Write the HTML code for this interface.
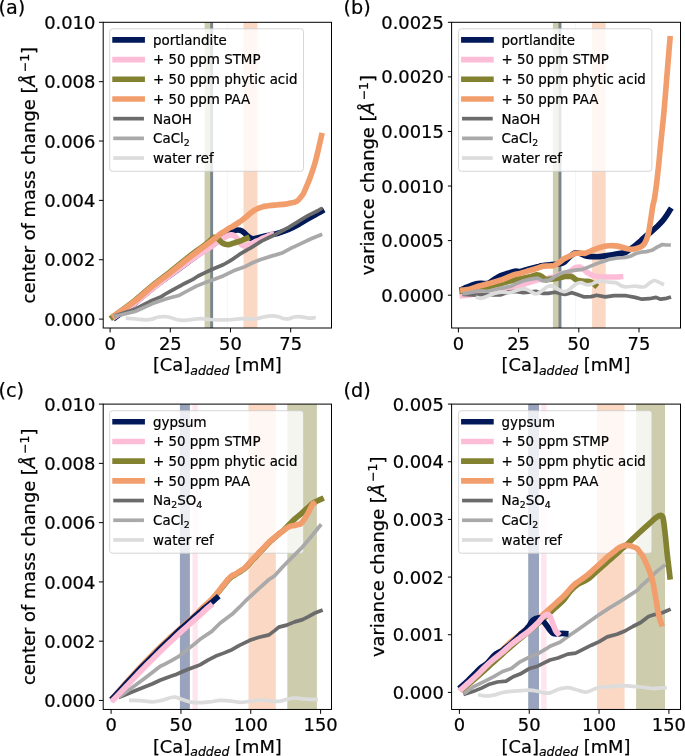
<!DOCTYPE html>
<html lang="en"><head><meta charset="utf-8"><title>Scattering moments vs added calcium</title>
<style>html,body{margin:0;padding:0;background:#fff}body{width:685px;height:756px;overflow:hidden}svg{display:block}text{font-family:'DejaVu Sans', 'Liberation Sans', sans-serif;fill:#000;stroke:#000;stroke-width:0.22px;stroke-linejoin:round}</style>
</head><body>
<svg width="685" height="756" viewBox="0 0 685 756">
<defs><filter id="soft" x="0" y="0" width="100%" height="100%" filterUnits="userSpaceOnUse" color-interpolation-filters="sRGB"><feGaussianBlur stdDeviation="0.3"/></filter></defs>
<g filter="url(#soft)">
<rect x="-5" y="-5" width="695" height="766" fill="#fff"/>
<g id="panel-a">
<clipPath id="clip-a"><rect x="103.2" y="22.3" width="228.3" height="305.7"/></clipPath>
<g clip-path="url(#clip-a)">
<rect x="204.6" y="22.3" width="8.5" height="305.7" fill="#828231" fill-opacity="0.4"/>
<rect x="210.2" y="22.3" width="2.9" height="305.7" fill="#011959" fill-opacity="0.4"/>
<rect x="226.9" y="22.3" width="0.5" height="305.7" fill="#fdbdd6" fill-opacity="0.4"/>
<rect x="243.5" y="22.3" width="13.9" height="305.7" fill="#f29e6c" fill-opacity="0.4"/>
</g>
<rect x="109.7" y="28.8" width="193.8" height="142.5" rx="2.7" ry="2.7" fill="#fff" fill-opacity="0.8" stroke="#ccc" stroke-opacity="0.8" stroke-width="1"/>
<line x1="115.1" y1="39.85" x2="142.1" y2="39.85" stroke="#011959" stroke-width="5.65" stroke-linecap="square"/>
<text x="153.1" y="44.75" font-size="13.4">portlandite</text>
<line x1="115.1" y1="59.55" x2="142.1" y2="59.55" stroke="#fdbdd6" stroke-width="5.65" stroke-linecap="square"/>
<text x="153.1" y="64.45" font-size="13.4">+ 50 ppm STMP</text>
<line x1="115.1" y1="79.25" x2="142.1" y2="79.25" stroke="#828231" stroke-width="5.65" stroke-linecap="square"/>
<text x="153.1" y="84.15" font-size="13.4">+ 50 ppm phytic acid</text>
<line x1="115.1" y1="98.95" x2="142.1" y2="98.95" stroke="#f29e6c" stroke-width="5.65" stroke-linecap="square"/>
<text x="153.1" y="103.85" font-size="13.4">+ 50 ppm PAA</text>
<line x1="115.1" y1="118.65" x2="142.1" y2="118.65" stroke="#6b6b6b" stroke-width="3.7" stroke-linecap="square"/>
<text x="153.1" y="123.55" font-size="13.4">NaOH</text>
<line x1="115.1" y1="138.35" x2="142.1" y2="138.35" stroke="#a9a9a9" stroke-width="3.7" stroke-linecap="square"/>
<text x="153.1" y="143.25" font-size="13.4">CaCl<tspan dy="2.6" font-size="9.38">2</tspan></text>
<line x1="115.1" y1="158.05" x2="142.1" y2="158.05" stroke="#dcdcdc" stroke-width="3.7" stroke-linecap="square"/>
<text x="153.1" y="162.95" font-size="13.4">water ref</text>
<g clip-path="url(#clip-a)">
<path d="M115.47,317.29C118.72,314.91 128.81,307.83 135,303C141.19,298.17 146.75,292.92 152.6,288.3C158.45,283.68 164.27,279.6 170.1,275.3C175.93,271 182.62,266.13 187.6,262.5C192.58,258.87 196.28,256.08 200,253.5C203.72,250.92 207.23,248.83 209.9,247C212.57,245.17 213.68,244.25 216,242.5C218.32,240.75 221.8,238 223.8,236.5C225.8,235 226.68,234.3 228,233.5C229.32,232.7 230.42,232.25 231.7,231.7C232.98,231.15 234.32,230.43 235.7,230.2C237.08,229.97 238.62,229.92 240,230.3C241.38,230.68 242.75,231.55 244,232.5C245.25,233.45 246.3,235.02 247.5,236C248.7,236.98 249.95,237.97 251.2,238.4C252.45,238.83 253.68,238.75 255,238.6C256.32,238.45 257.43,237.93 259.1,237.5C260.77,237.07 263.35,236.39 265,236.01C266.65,235.63 267.33,235.54 269,235.2C270.67,234.86 273.37,234.34 275,233.97C276.63,233.6 276.52,233.76 278.8,233C281.08,232.24 285.42,230.82 288.7,229.4C291.98,227.98 295.22,226.3 298.5,224.5C301.78,222.7 305.1,220.5 308.4,218.6C311.7,216.7 316.09,214.33 318.3,213.1C320.51,211.87 321.08,211.51 321.64,211.19" fill="none" stroke="#011959" stroke-width="5.65" stroke-linejoin="round" stroke-linecap="square"/>
<path d="M114.49,316.83C117.91,314.52 129.08,307.36 135,303C140.92,298.64 147.07,293.07 150,290.64C152.93,288.21 149.27,291.01 152.6,288.44C155.93,285.86 167.08,277.4 170,275.17C172.92,272.95 167.17,277.21 170.1,275.1C173.03,272.99 184.28,264.89 187.6,262.5C190.92,260.11 187.93,262.2 190,260.76C192.07,259.31 197.5,255.51 200,253.83C202.5,252.16 203.35,251.77 205,250.72C206.65,249.66 208.07,248.79 209.9,247.5C211.73,246.21 213.68,244.6 216,243C218.32,241.4 221.83,239.13 223.8,237.9C225.77,236.67 226.48,236.1 227.8,235.6C229.12,235.1 230.52,234.82 231.7,234.9C232.88,234.98 233.97,235.43 234.9,236.1C235.83,236.77 236.45,237.75 237.3,238.9C238.15,240.05 239.05,241.88 240,243C240.95,244.12 241.83,245.2 243,245.6C244.17,246 245.27,245.87 247,245.38C248.73,244.89 252.13,243.22 253.4,242.66C254.67,242.09 253.63,242.43 254.6,241.98C255.57,241.54 257.97,240.57 259.2,240C260.43,239.43 261.02,239.02 262,238.58C262.98,238.13 263.77,237.91 265.1,237.35C266.43,236.79 269.03,235.63 270,235.2C270.97,234.76 270.62,234.87 270.9,234.73C271.18,234.58 271.56,234.39 271.7,234.32" fill="none" stroke="#fdbdd6" stroke-width="5.65" stroke-linejoin="round" stroke-linecap="square"/>
<path d="M112.6,316.98C116.33,314.21 128.33,305.65 135,300.4C141.67,295.15 146.75,290.23 152.6,285.5C158.45,280.77 164.27,276.62 170.1,272C175.93,267.38 182.62,261.73 187.6,257.8C192.58,253.87 196.62,250.93 200,248.4C203.38,245.87 205.52,244.45 207.9,242.6C210.28,240.75 212.45,237.78 214.3,237.3C216.15,236.82 217.68,238.77 219,239.7C220.32,240.63 221.13,242.13 222.2,242.9C223.27,243.67 224.33,244.02 225.4,244.3C226.47,244.58 227.55,244.68 228.6,244.6C229.65,244.52 230.52,244.15 231.7,243.8C232.88,243.45 234.32,242.95 235.7,242.5C237.08,242.05 238.62,241.62 240,241.1C241.38,240.58 242.83,239.89 244,239.4C245.17,238.91 246.5,238.34 247,238.13" fill="none" stroke="#828231" stroke-width="5.65" stroke-linejoin="round" stroke-linecap="square"/>
<path d="M114.4,315.77C117.83,313.31 128.63,305.94 135,301C141.37,296.06 146.75,290.78 152.6,286.1C158.45,281.42 164.27,277.43 170.1,272.9C175.93,268.37 182.62,262.78 187.6,258.9C192.58,255.02 196.62,252.12 200,249.6C203.38,247.08 205.25,245.78 207.9,243.8C210.55,241.82 213.92,239.28 215.9,237.7C217.88,236.12 218.48,235.3 219.8,234.3C221.12,233.3 222.1,232.8 223.8,231.7C225.5,230.6 228.68,228.5 230,227.7C231.32,226.9 230.87,227.36 231.7,226.91C232.53,226.46 233.62,225.87 235,225C236.38,224.13 238.68,222.6 240,221.66C241.32,220.72 241.68,220.31 242.9,219.36C244.12,218.41 245.97,217.06 247.3,215.97C248.63,214.88 249.68,213.76 250.9,212.8C252.12,211.85 253.95,210.68 254.6,210.23C255.25,209.78 254.1,210.43 254.8,210.08C255.5,209.74 257.47,208.75 258.8,208.18C260.13,207.61 261.48,207.04 262.8,206.67C264.12,206.31 265.67,206.14 266.7,205.98C267.73,205.81 267.67,205.82 269,205.68C270.33,205.55 272.03,205.41 274.7,205.15C277.37,204.89 282.67,204.39 285,204.1C287.33,203.81 286.77,203.85 288.7,203.4C290.63,202.95 294.3,202.82 296.6,201.4C298.9,199.98 301.2,196.58 302.5,194.9C303.8,193.22 303.22,193.93 304.4,191.3C305.58,188.67 307.85,183.77 309.6,179.1C311.35,174.43 313.43,168.27 314.9,163.3C316.37,158.33 317.3,153.91 318.4,149.3C319.5,144.69 320.98,137.93 321.5,135.66" fill="none" stroke="#f29e6c" stroke-width="5.65" stroke-linejoin="round" stroke-linecap="square"/>
<polyline points="116.04,315.43 135,309.2 152.6,300.1 161.3,296.6 165,294.25 170.1,291.34 178.8,286.52 180,286.01 184.1,283.73 192.9,279.44 195,277.97 198.1,276 205.1,272.6 211.8,269.5 223.7,264.5 230,260.87 231.5,259.95 239.4,254.47 249.3,248.72 250,248.31 259.1,242.69 262,240.92 269,237.53 275,234.72 278.8,232.7 288.7,227.3 298.5,221.3 300,220.38 308.4,215.44 318.3,210.51 320.68,208.99" fill="none" stroke="#6b6b6b" stroke-width="3.7" stroke-linejoin="round" stroke-linecap="square"/>
<polyline points="116.07,315.93 135,311.5 152.6,303.6 165,299.28 170.1,297.74 178.8,295.44 180,294.9 187.6,290.75 195,286.78 196.4,286.1 205.1,282.6 211.8,280.3 223.7,275.7 233.5,270.8 243.4,267.3 253.2,262.5 260,259.82 263.1,258.85 272.9,255.63 275,255.14 282.8,252.7 292.6,247.4 295,246.43 302.5,242.8 310,239.22 312.3,238.3 320.53,234.97" fill="none" stroke="#a9a9a9" stroke-width="3.7" stroke-linejoin="round" stroke-linecap="square"/>
<path d="M127.6,318.3C129.01,318.42 133.08,318.75 136.1,319C139.12,319.25 143.03,319.78 145.7,319.8C148.37,319.82 149.97,319.57 152.1,319.1C154.23,318.63 156.35,317.42 158.5,317C160.65,316.58 162.85,316.47 165,316.6C167.15,316.73 169.27,317.27 171.4,317.8C173.53,318.33 175.67,319.38 177.8,319.8C179.93,320.22 181.78,320.35 184.2,320.3C186.62,320.25 189.62,319.77 192.3,319.5C194.98,319.23 197.37,318.7 200.3,318.7C203.23,318.7 206.68,319.32 209.9,319.5C213.12,319.68 217.08,319.75 219.6,319.8C222.12,319.85 222.77,319.85 225,319.8C227.23,319.75 230.32,319.68 233,319.5C235.68,319.32 238.15,318.77 241.1,318.7C244.05,318.63 248.03,319.1 250.7,319.1C253.37,319.1 254.97,319.05 257.1,318.7C259.23,318.35 261.08,317.47 263.5,317C265.92,316.53 269.18,315.97 271.6,315.9C274.02,315.83 275.87,316.13 278,316.6C280.13,317.07 282.53,318.35 284.4,318.7C286.27,319.05 287.58,318.98 289.2,318.7C290.82,318.42 292.48,317.35 294.1,317C295.72,316.65 297.03,316.52 298.9,316.6C300.77,316.68 303.43,317.23 305.3,317.5C307.17,317.77 308.66,318.16 310.1,318.2C311.54,318.24 313.28,317.8 313.91,317.72" fill="none" stroke="#dcdcdc" stroke-width="3.7" stroke-linejoin="round" stroke-linecap="square"/>
</g>
<rect x="103.2" y="22.3" width="228.3" height="305.7" fill="none" stroke="#000" stroke-width="1"/>
<line x1="110.1" y1="328" x2="110.1" y2="332.4" stroke="#000" stroke-width="1"/>
<text x="110.1" y="349.6" font-size="17.9" text-anchor="middle">0</text>
<line x1="170.3" y1="328" x2="170.3" y2="332.4" stroke="#000" stroke-width="1"/>
<text x="170.3" y="349.6" font-size="17.9" text-anchor="middle">25</text>
<line x1="230.5" y1="328" x2="230.5" y2="332.4" stroke="#000" stroke-width="1"/>
<text x="230.5" y="349.6" font-size="17.9" text-anchor="middle">50</text>
<line x1="290.7" y1="328" x2="290.7" y2="332.4" stroke="#000" stroke-width="1"/>
<text x="290.7" y="349.6" font-size="17.9" text-anchor="middle">75</text>
<line x1="98.9" y1="319.1" x2="103.2" y2="319.1" stroke="#000" stroke-width="1"/>
<text x="95.35" y="325.7" font-size="17.9" text-anchor="end">0.000</text>
<line x1="98.9" y1="259.74" x2="103.2" y2="259.74" stroke="#000" stroke-width="1"/>
<text x="95.35" y="266.34" font-size="17.9" text-anchor="end">0.002</text>
<line x1="98.9" y1="200.38" x2="103.2" y2="200.38" stroke="#000" stroke-width="1"/>
<text x="95.35" y="206.98" font-size="17.9" text-anchor="end">0.004</text>
<line x1="98.9" y1="141.02" x2="103.2" y2="141.02" stroke="#000" stroke-width="1"/>
<text x="95.35" y="147.62" font-size="17.9" text-anchor="end">0.006</text>
<line x1="98.9" y1="81.66" x2="103.2" y2="81.66" stroke="#000" stroke-width="1"/>
<text x="95.35" y="88.26" font-size="17.9" text-anchor="end">0.008</text>
<line x1="98.9" y1="22.3" x2="103.2" y2="22.3" stroke="#000" stroke-width="1"/>
<text x="95.35" y="28.9" font-size="17.9" text-anchor="end">0.010</text>
<text x="217.35" y="371.3" font-size="17.85" text-anchor="middle">[Ca]<tspan dy="3.2" font-size="12.5" font-style="italic">added</tspan><tspan dy="-3.2"> [mM]</tspan></text>
<text transform="translate(35.2 175.15) rotate(-90)" font-size="17.85" text-anchor="middle">center of mass change [<tspan font-style="italic">Å</tspan><tspan dy="-6.4" dx="2.0" font-size="12.5">−1</tspan><tspan dy="6.4">]</tspan></text>
<text x="-1.5" y="14.3" font-size="19.2">(a)</text>
</g>
<g id="panel-b">
<clipPath id="clip-b"><rect x="451.6" y="22.3" width="228.9" height="305.7"/></clipPath>
<g clip-path="url(#clip-b)">
<rect x="552.9" y="22.3" width="8.5" height="305.7" fill="#828231" fill-opacity="0.4"/>
<rect x="558.5" y="22.3" width="2.9" height="305.7" fill="#011959" fill-opacity="0.4"/>
<rect x="575.2" y="22.3" width="0.5" height="305.7" fill="#fdbdd6" fill-opacity="0.4"/>
<rect x="592.1" y="22.3" width="13.6" height="305.7" fill="#f29e6c" fill-opacity="0.4"/>
</g>
<rect x="458.6" y="28.8" width="193.3" height="142.5" rx="2.7" ry="2.7" fill="#fff" fill-opacity="0.8" stroke="#ccc" stroke-opacity="0.8" stroke-width="1"/>
<line x1="463.9" y1="39.85" x2="490.9" y2="39.85" stroke="#011959" stroke-width="5.65" stroke-linecap="square"/>
<text x="501.5" y="44.75" font-size="13.4">portlandite</text>
<line x1="463.9" y1="59.55" x2="490.9" y2="59.55" stroke="#fdbdd6" stroke-width="5.65" stroke-linecap="square"/>
<text x="501.5" y="64.45" font-size="13.4">+ 50 ppm STMP</text>
<line x1="463.9" y1="79.25" x2="490.9" y2="79.25" stroke="#828231" stroke-width="5.65" stroke-linecap="square"/>
<text x="501.5" y="84.15" font-size="13.4">+ 50 ppm phytic acid</text>
<line x1="463.9" y1="98.95" x2="490.9" y2="98.95" stroke="#f29e6c" stroke-width="5.65" stroke-linecap="square"/>
<text x="501.5" y="103.85" font-size="13.4">+ 50 ppm PAA</text>
<line x1="463.9" y1="118.65" x2="490.9" y2="118.65" stroke="#6b6b6b" stroke-width="3.7" stroke-linecap="square"/>
<text x="501.5" y="123.55" font-size="13.4">NaOH</text>
<line x1="463.9" y1="138.35" x2="490.9" y2="138.35" stroke="#a9a9a9" stroke-width="3.7" stroke-linecap="square"/>
<text x="501.5" y="143.25" font-size="13.4">CaCl<tspan dy="2.6" font-size="9.38">2</tspan></text>
<line x1="463.9" y1="158.05" x2="490.9" y2="158.05" stroke="#dcdcdc" stroke-width="3.7" stroke-linecap="square"/>
<text x="501.5" y="162.95" font-size="13.4">water ref</text>
<g clip-path="url(#clip-b)">
<path d="M462.5,289.11C463.33,288.74 465.2,287.79 467.5,286.9C469.8,286.01 473.97,284.38 476.3,283.8C478.63,283.22 479.6,283.47 481.5,283.4C483.4,283.33 485.65,284.03 487.7,283.4C489.75,282.77 491.62,280.9 493.8,279.6C495.98,278.3 498.47,276.65 500.8,275.6C503.13,274.55 505.47,274.03 507.8,273.3C510.13,272.57 512.75,271.5 514.8,271.2C516.85,270.9 517.77,271.85 520.1,271.5C522.43,271.15 525.88,269.88 528.8,269.1C531.72,268.32 535.55,267.33 537.6,266.8C539.65,266.27 539.35,266.2 541.1,265.9C542.85,265.6 545.77,265.28 548.1,265C550.43,264.72 552.77,264.48 555.1,264.2C557.43,263.92 560.45,263.75 562.1,263.3C563.75,262.85 563.63,262.67 565,261.5C566.37,260.33 568.55,257.75 570.3,256.3C572.05,254.85 573.75,253.23 575.5,252.8C577.25,252.37 579.05,253.18 580.8,253.7C582.55,254.22 583.97,255.42 586,255.9C588.03,256.38 590.67,256.48 593,256.6C595.33,256.72 597.37,256.8 600,256.6C602.63,256.4 605.87,255.88 608.8,255.4C611.73,254.92 614.85,254.18 617.6,253.7C620.35,253.22 623.13,253.32 625.3,252.5C627.47,251.68 628.83,250.05 630.6,248.8C632.37,247.55 634.13,246.42 635.9,245C637.67,243.58 639.43,241.88 641.2,240.3C642.97,238.72 644.73,237 646.5,235.5C648.27,234 650.03,232.8 651.8,231.3C653.57,229.8 655.35,228.18 657.1,226.5C658.85,224.82 660.72,223.05 662.3,221.2C663.88,219.35 665.34,217.21 666.6,215.4C667.86,213.59 669.29,211.17 669.83,210.32" fill="none" stroke="#011959" stroke-width="5.65" stroke-linejoin="round" stroke-linecap="square"/>
<path d="M462.4,295.62C463.25,295.55 465.48,295.49 467.5,295.2C469.52,294.91 472.17,294.7 474.5,293.9C476.83,293.1 479.45,291.27 481.5,290.4C483.55,289.53 484.75,288.9 486.8,288.7C488.85,288.5 491.17,289.2 493.8,289.2C496.43,289.2 499.68,288.93 502.6,288.7C505.52,288.47 508.38,288.38 511.3,287.8C514.22,287.22 517.18,286.07 520.1,285.2C523.02,284.33 525.88,283.48 528.8,282.6C531.72,281.72 536.07,280.37 537.6,279.9C539.13,279.43 536.83,279.93 538,279.77C539.17,279.61 543.27,279.09 544.6,278.94C545.93,278.78 544.83,279.1 546,278.84C547.17,278.58 550.1,277.79 551.6,277.4C553.1,277.01 553.83,276.95 555,276.53C556.17,276.1 557.43,275.29 558.6,274.83C559.77,274.36 560.93,273.97 562,273.73C563.07,273.49 563.62,273.82 565,273.4C566.38,272.98 568.55,272.15 570.3,271.2C572.05,270.25 573.9,268.38 575.5,267.7C577.1,267.02 578.43,266.73 579.9,267.1C581.37,267.47 582.98,268.93 584.3,269.9C585.62,270.87 586.35,271.95 587.8,272.9C589.25,273.85 590.97,274.95 593,275.6C595.03,276.25 597.37,276.57 600,276.8C602.63,277.03 605.87,276.97 608.8,277C611.73,277.03 615.65,277.04 617.6,277C619.55,276.96 620.02,276.8 620.5,276.76" fill="none" stroke="#fdbdd6" stroke-width="5.65" stroke-linejoin="round" stroke-linecap="square"/>
<path d="M462.1,291.02C463,290.91 465.13,290.7 467.5,290.4C469.87,290.1 473.38,289.68 476.3,289.2C479.22,288.72 482.08,288.17 485,287.5C487.92,286.83 490.87,285.97 493.8,285.2C496.73,284.43 499.68,283.63 502.6,282.9C505.52,282.17 508.38,281.5 511.3,280.8C514.22,280.1 517.18,279.33 520.1,278.7C523.02,278.07 526.18,277.62 528.8,277C531.42,276.38 534.27,275.32 535.8,275C537.33,274.68 537.12,274.88 538,275.08C538.88,275.29 539.82,275.49 541.1,276.25C542.38,277 544.82,279.04 545.7,279.62C546.58,280.2 545.35,279.85 546.4,279.72C547.45,279.6 550.55,279.03 552,278.88C553.45,278.73 553.77,279.03 555.1,278.81C556.43,278.59 558.83,277.82 560,277.57C561.17,277.32 561.27,277.5 562.1,277.3C562.93,277.11 563.68,276.55 565,276.4C566.32,276.25 568.83,276.33 570,276.4C571.17,276.47 571,276.26 572,276.8C573,277.34 575.12,279.05 576,279.64C576.88,280.22 576.22,280.06 577.3,280.3C578.38,280.54 581.22,280.91 582.5,281.1C583.78,281.29 583.83,281.35 585,281.42C586.17,281.5 588.33,281.32 589.5,281.55C590.67,281.78 591.27,282.39 592,282.78C592.73,283.17 593.37,283.52 593.9,283.9C594.43,284.28 594.98,284.86 595.2,285.05" fill="none" stroke="#828231" stroke-width="5.65" stroke-linejoin="round" stroke-linecap="square"/>
<path d="M463,290.07C463.75,289.99 466,289.86 467.5,289.59C469,289.31 470.53,288.87 472,288.41C473.47,287.95 474.13,287.49 476.3,286.84C478.47,286.19 482.08,285.31 485,284.52C487.92,283.73 490.87,282.94 493.8,282.1C496.73,281.26 501.07,279.94 502.6,279.49C504.13,279.04 501.55,280.01 503,279.39C504.45,278.78 509.3,276.64 511.3,275.82C513.3,274.99 513.53,274.85 515,274.44C516.47,274.04 517.8,274.01 520.1,273.4C522.4,272.79 526.32,271.54 528.8,270.8C531.28,270.06 533.53,269.42 535,268.97C536.47,268.52 536.28,268.59 537.6,268.12C538.92,267.65 541.15,266.51 542.9,266.15C544.65,265.8 546.75,266.03 548.1,265.99C549.45,265.95 550.12,265.94 551,265.9C551.88,265.86 552.13,266.26 553.4,265.74C554.67,265.22 556.85,263.93 558.6,262.79C560.35,261.66 562.67,259.76 563.9,258.94C565.13,258.12 564.35,258.69 566,257.87C567.65,257.05 572.13,254.78 573.8,254.01C575.47,253.24 574.55,253.39 576,253.24C577.45,253.09 581,253.11 582.5,253.11C584,253.1 583.53,253.59 585,253.2C586.47,252.82 590.13,251.26 591.3,250.8C592.47,250.34 590.55,250.99 592,250.44C593.45,249.89 597.2,248.27 600,247.5C602.8,246.73 605.87,246.03 608.8,245.8C611.73,245.57 614.68,245.67 617.6,246.1C620.52,246.53 623.78,247.87 626.3,248.4C628.82,248.93 630.57,249.42 632.7,249.3C634.83,249.18 637.33,248.42 639.1,247.7C640.87,246.98 642.17,246.15 643.3,245C644.43,243.85 645.1,242.55 645.9,240.8C646.7,239.05 647.48,236.78 648.1,234.5C648.72,232.22 649.08,230.1 649.6,227.1C650.12,224.1 650.67,220.03 651.2,216.5C651.73,212.97 652.2,209.2 652.8,205.9C653.4,202.6 653.95,202.28 654.8,196.7C655.65,191.12 656.88,181.53 657.9,172.4C658.92,163.27 659.88,152.07 660.9,141.9C661.92,131.73 662.98,122.58 664,111.4C665.02,100.22 666.12,85.53 667,74.8C667.88,64.07 668.8,52.98 669.3,47C669.8,41.02 669.88,40.25 670,38.9" fill="none" stroke="#f29e6c" stroke-width="5.65" stroke-linejoin="round" stroke-linecap="square"/>
<polyline points="464.3,294.6 476.3,295.2 485,294.5 493.8,294.8 500.8,294.8 507.8,292.2 514.8,291.3 523.6,292.7 528.8,292.2 535.8,291.3 542.9,293.4 548.1,293.4 555.1,292.2 562.1,293.9 565,294.5 572,292.7 577.3,294.5 584.3,296.9 591.3,296.6 596.5,295.2 605.3,296.9 614.1,295.7 626.3,295.7 635.1,297.4 642.1,299.2 649.1,298.7 656.1,297.4 660.5,299.2 666.6,298.3 669.28,297.45" fill="none" stroke="#6b6b6b" stroke-width="3.7" stroke-linejoin="round" stroke-linecap="square"/>
<polyline points="464.3,293.59 467.5,293.1 476.3,291.3 478,290.97 485,291 488,291.29 493.8,289.83 498,288.77 502.6,288.11 510,286.35 511.3,286.1 516.6,283.4 523.6,280.8 530.6,279.1 537.6,278.2 542.9,280.8 549.9,279.9 555.1,276.4 562.1,272.9 565,272 573.8,270.3 582.5,269.4 591.3,265.9 600,262.4 608.8,259.4 617.6,258 625.3,257.5 630.6,256.2 635.9,253.5 641.2,252.2 646.5,251.6 651.8,250.3 657.1,247.2 662.3,244.5 666.6,245 669,245" fill="none" stroke="#a9a9a9" stroke-width="3.7" stroke-linejoin="round" stroke-linecap="square"/>
<path d="M477.48,297.6C478.15,297.72 479.66,298.62 481.5,298.3C483.34,297.98 486.17,296.57 488.5,295.7C490.83,294.83 493.15,293.68 495.5,293.1C497.85,292.52 500.25,292.27 502.6,292.2C504.95,292.13 507.27,293 509.6,292.7C511.93,292.4 514.27,291.07 516.6,290.4C518.93,289.73 521.57,288.7 523.6,288.7C525.63,288.7 526.77,289.53 528.8,290.4C530.83,291.27 533.75,293.75 535.8,293.9C537.85,294.05 539.05,292.55 541.1,291.3C543.15,290.05 546.05,287.22 548.1,286.4C550.15,285.58 551.65,285.87 553.4,286.4C555.15,286.93 556.85,288.72 558.6,289.6C560.35,290.48 562.5,291.5 563.9,291.7C565.3,291.9 565.93,291.3 567,290.8C568.07,290.3 568.88,289.78 570.3,288.7C571.72,287.62 573.75,285.32 575.5,284.3C577.25,283.28 579.05,282.53 580.8,282.6C582.55,282.67 584.25,284.42 586,284.7C587.75,284.98 589.55,284.8 591.3,284.3C593.05,283.8 594.75,282.28 596.5,281.7C598.25,281.12 599.75,280.72 601.8,280.8C603.85,280.88 606.47,281.9 608.8,282.2C611.13,282.5 613.75,282.02 615.8,282.6C617.85,283.18 619.35,284.98 621.1,285.7C622.85,286.42 623.97,286.83 626.3,286.9C628.63,286.97 632.18,286.1 635.1,286.1C638.02,286.1 641.47,287.35 643.8,286.9C646.13,286.45 647.35,284.47 649.1,283.4C650.85,282.33 652.55,280.63 654.3,280.5C656.05,280.37 658.25,282.03 659.6,282.6C660.95,283.17 661.91,283.7 662.38,283.92" fill="none" stroke="#dcdcdc" stroke-width="3.7" stroke-linejoin="round" stroke-linecap="square"/>
</g>
<rect x="451.6" y="22.3" width="228.9" height="305.7" fill="none" stroke="#000" stroke-width="1"/>
<line x1="458.4" y1="328" x2="458.4" y2="332.4" stroke="#000" stroke-width="1"/>
<text x="458.4" y="349.6" font-size="17.9" text-anchor="middle">0</text>
<line x1="518.6" y1="328" x2="518.6" y2="332.4" stroke="#000" stroke-width="1"/>
<text x="518.6" y="349.6" font-size="17.9" text-anchor="middle">25</text>
<line x1="578.8" y1="328" x2="578.8" y2="332.4" stroke="#000" stroke-width="1"/>
<text x="578.8" y="349.6" font-size="17.9" text-anchor="middle">50</text>
<line x1="639" y1="328" x2="639" y2="332.4" stroke="#000" stroke-width="1"/>
<text x="639" y="349.6" font-size="17.9" text-anchor="middle">75</text>
<line x1="447.9" y1="295.2" x2="451.6" y2="295.2" stroke="#000" stroke-width="1"/>
<text x="443.9" y="301.8" font-size="17.9" text-anchor="end">0.0000</text>
<line x1="447.9" y1="240.62" x2="451.6" y2="240.62" stroke="#000" stroke-width="1"/>
<text x="443.9" y="247.22" font-size="17.9" text-anchor="end">0.0005</text>
<line x1="447.9" y1="186.04" x2="451.6" y2="186.04" stroke="#000" stroke-width="1"/>
<text x="443.9" y="192.64" font-size="17.9" text-anchor="end">0.0010</text>
<line x1="447.9" y1="131.46" x2="451.6" y2="131.46" stroke="#000" stroke-width="1"/>
<text x="443.9" y="138.06" font-size="17.9" text-anchor="end">0.0015</text>
<line x1="447.9" y1="76.88" x2="451.6" y2="76.88" stroke="#000" stroke-width="1"/>
<text x="443.9" y="83.48" font-size="17.9" text-anchor="end">0.0020</text>
<line x1="447.9" y1="22.3" x2="451.6" y2="22.3" stroke="#000" stroke-width="1"/>
<text x="443.9" y="28.9" font-size="17.9" text-anchor="end">0.0025</text>
<text x="566.05" y="371.3" font-size="17.85" text-anchor="middle">[Ca]<tspan dy="3.2" font-size="12.5" font-style="italic">added</tspan><tspan dy="-3.2"> [mM]</tspan></text>
<text transform="translate(373.9 175.15) rotate(-90)" font-size="17.85" text-anchor="middle">variance change [<tspan font-style="italic">Å</tspan><tspan dy="-6.4" dx="2.0" font-size="12.5">−1</tspan><tspan dy="6.4">]</tspan></text>
<text x="343.5" y="14.3" font-size="19.2">(b)</text>
</g>
<g id="panel-c">
<clipPath id="clip-c"><rect x="103.2" y="404.1" width="228.3" height="305.35"/></clipPath>
<g clip-path="url(#clip-c)">
<rect x="179.9" y="404.1" width="10" height="305.35" fill="#011959" fill-opacity="0.4"/>
<rect x="192.5" y="404.1" width="5.3" height="305.35" fill="#fdbdd6" fill-opacity="0.4"/>
<rect x="248.5" y="404.1" width="27.3" height="305.35" fill="#f29e6c" fill-opacity="0.4"/>
<rect x="287.3" y="404.1" width="29.6" height="305.35" fill="#828231" fill-opacity="0.4"/>
</g>
<rect x="109.7" y="410.7" width="193.8" height="142.5" rx="2.7" ry="2.7" fill="#fff" fill-opacity="0.8" stroke="#ccc" stroke-opacity="0.8" stroke-width="1"/>
<line x1="115.1" y1="421.75" x2="142.1" y2="421.75" stroke="#011959" stroke-width="5.65" stroke-linecap="square"/>
<text x="153.1" y="426.65" font-size="13.4">gypsum</text>
<line x1="115.1" y1="441.45" x2="142.1" y2="441.45" stroke="#fdbdd6" stroke-width="5.65" stroke-linecap="square"/>
<text x="153.1" y="446.35" font-size="13.4">+ 50 ppm STMP</text>
<line x1="115.1" y1="461.15" x2="142.1" y2="461.15" stroke="#828231" stroke-width="5.65" stroke-linecap="square"/>
<text x="153.1" y="466.05" font-size="13.4">+ 50 ppm phytic acid</text>
<line x1="115.1" y1="480.85" x2="142.1" y2="480.85" stroke="#f29e6c" stroke-width="5.65" stroke-linecap="square"/>
<text x="153.1" y="485.75" font-size="13.4">+ 50 ppm PAA</text>
<line x1="115.1" y1="500.55" x2="142.1" y2="500.55" stroke="#6b6b6b" stroke-width="3.7" stroke-linecap="square"/>
<text x="153.1" y="505.45" font-size="13.4">Na<tspan dy="2.6" font-size="9.38">2</tspan><tspan dy="-2.6">SO</tspan><tspan dy="2.6" font-size="9.38">4</tspan></text>
<line x1="115.1" y1="520.25" x2="142.1" y2="520.25" stroke="#a9a9a9" stroke-width="3.7" stroke-linecap="square"/>
<text x="153.1" y="525.15" font-size="13.4">CaCl<tspan dy="2.6" font-size="9.38">2</tspan></text>
<line x1="115.1" y1="539.95" x2="142.1" y2="539.95" stroke="#dcdcdc" stroke-width="3.7" stroke-linecap="square"/>
<text x="153.1" y="544.85" font-size="13.4">water ref</text>
<g clip-path="url(#clip-c)">
<polyline points="120.41,696.74 135,690.7 143.8,687.2 152.6,683.7 160,680.3 161.3,679.78 170.1,676.43 176,674.43 178.8,673.3 187.6,669.5 196.4,666.3 200,664.9 207.9,660.21 215.8,656.02 223.7,653.13 230,650.55 231.5,649.8 239.4,645.37 242,644.18 249.3,640.57 252,639.47 259.1,637.3 269,634.9 274.9,630.4 278.8,627.1 286.7,625.1 294.6,621.9 302.5,619.6 308.4,616.6 314.3,613.3 320.92,610.75" fill="none" stroke="#6b6b6b" stroke-width="3.7" stroke-linejoin="round" stroke-linecap="square"/>
<polyline points="120.27,696.19 135,685.5 143.8,679 150,674.28 152.6,672.25 160,666.49 161.3,665.77 163,665.03 170,661.39 170.1,661.34 178,656.88 178.8,656.34 180,655.53 187.6,649.43 196.4,642.47 200,639.3 211.8,631.4 219.7,623.5 220,623.25 229.6,616.04 233,613.42 239.4,607.2 245,601.47 249.3,597.46 259.1,588.43 260,587.59 269,579.5 274.9,575.6 282.8,566.7 292.6,556.9 302.5,547 312.3,535.2 320.06,525.69" fill="none" stroke="#a9a9a9" stroke-width="3.7" stroke-linejoin="round" stroke-linecap="square"/>
<path d="M130.8,700.43C132.38,700.47 136.67,700.47 140.3,700.7C143.93,700.93 149.1,701.85 152.6,701.8C156.1,701.75 158.38,701.08 161.3,700.4C164.22,699.72 167.77,698.23 170.1,697.7C172.43,697.17 173.27,696.9 175.3,697.2C177.33,697.5 179.67,698.68 182.3,699.5C184.93,700.32 188.15,701.57 191.1,702.1C194.05,702.63 196.87,702.73 200,702.7C203.13,702.67 206.62,702.28 209.9,701.9C213.18,701.52 216.42,700.58 219.7,700.4C222.98,700.22 226.32,700.48 229.6,700.8C232.88,701.12 236.12,702.2 239.4,702.3C242.68,702.4 246.02,701.78 249.3,701.4C252.58,701.02 255.82,700.1 259.1,700C262.38,699.9 265.72,700.57 269,700.8C272.28,701.03 275.85,701.63 278.8,701.4C281.75,701.17 284.07,699.97 286.7,699.4C289.33,698.83 291.97,698.1 294.6,698C297.23,697.9 299.87,698.57 302.5,698.8C305.13,699.03 308.13,699.3 310.4,699.4C312.67,699.5 315.15,699.4 316.1,699.4" fill="none" stroke="#dcdcdc" stroke-width="3.7" stroke-linejoin="round" stroke-linecap="square"/>
<path d="M113.6,697.58C113.67,697.51 111.88,699.18 114,697.14C116.12,695.1 123.97,687.59 126.3,685.36C128.63,683.12 126.55,685.28 128,683.72C129.45,682.16 132.37,678.85 135,676C137.63,673.15 140.87,669.67 143.8,666.6C146.73,663.53 149.68,660.53 152.6,657.6C155.52,654.67 158.38,651.78 161.3,649C164.22,646.22 167.18,643.55 170.1,640.9C173.02,638.25 175.88,635.7 178.8,633.1C181.72,630.5 184.9,627.71 187.6,625.3C190.3,622.89 193.53,620 195,618.66C196.47,617.31 194.73,619.18 196.4,617.24C198.07,615.29 202.8,609.49 205,606.99C207.2,604.48 208.78,603.05 209.6,602.2C210.42,601.36 209.5,602.38 209.9,601.94C210.3,601.5 211.45,600.17 212,599.57C212.55,598.97 212.38,599.3 213.2,598.36C214.02,597.41 215.82,595.21 216.9,593.89C217.98,592.57 219.1,591.17 219.7,590.43C220.3,589.69 220.12,589.96 220.5,589.45C220.88,588.93 221.38,588.09 222,587.35C222.62,586.61 223.32,586.07 224.2,585.02C225.08,583.97 226.73,581.79 227.3,581.05C227.87,580.3 227.52,580.67 227.6,580.56C227.68,580.45 227.15,581.01 227.8,580.39C228.45,579.77 230.37,577.71 231.5,576.83C232.63,575.95 234.02,575.42 234.6,575.1C235.18,574.78 234.85,574.97 235,574.9C235.15,574.83 234.87,575.13 235.5,574.7C236.13,574.28 237.73,573.06 238.8,572.35C239.87,571.63 241.3,570.78 241.9,570.41C242.5,570.05 242.15,570.29 242.4,570.15C242.65,570.01 242.97,569.89 243.4,569.58C243.83,569.27 244.03,569.23 245,568.26C245.97,567.3 248.17,564.93 249.2,563.8C250.23,562.66 250.73,561.98 251.2,561.45C251.67,560.92 251.12,561.52 252,560.62C252.88,559.71 255.32,557.29 256.5,556.02C257.68,554.75 258.52,553.67 259.1,553.01C259.68,552.35 259.22,552.84 260,552.06C260.78,551.27 262.3,549.84 263.8,548.27C265.3,546.71 267.97,543.77 269,542.68C270.03,541.59 268.37,543.18 270,541.73C271.63,540.29 277.13,535.48 278.8,534.03C280.47,532.58 279.33,533.53 280,533.03C280.67,532.53 281.35,532.35 282.8,531.01C284.25,529.68 286.73,527.02 288.7,525.04C290.67,523.07 292.72,520.89 294.6,519.17C296.48,517.45 299.02,515.53 300,514.72C300.98,513.9 299.43,515.27 300.5,514.31C301.57,513.35 304.82,510.35 306.4,508.93C307.98,507.5 309.02,506.67 310,505.77C310.98,504.87 310.92,504.41 312.3,503.52C313.68,502.64 316.82,501.19 318.3,500.46C319.78,499.74 320.72,499.39 321.2,499.17" fill="none" stroke="#828231" stroke-width="5.65" stroke-linejoin="round" stroke-linecap="square"/>
<path d="M113.4,697.37C113.5,697.26 111.85,699.19 114,696.7C116.15,694.22 123.97,685.17 126.3,682.47C128.63,679.78 126.55,682.14 128,680.52C129.45,678.91 132.37,675.65 135,672.8C137.63,669.95 140.87,666.47 143.8,663.4C146.73,660.33 149.68,657.33 152.6,654.4C155.52,651.47 158.38,648.58 161.3,645.8C164.22,643.02 167.18,640.35 170.1,637.7C173.02,635.05 175.88,632.5 178.8,629.9C181.72,627.3 184.9,624.51 187.6,622.1C190.3,619.69 193.53,616.76 195,615.46C196.47,614.15 195.57,615.14 196.4,614.27C197.23,613.4 198.57,611.75 200,610.25C201.43,608.75 203.83,606.4 205,605.3C206.17,604.19 206.23,604.29 207,603.62C207.77,602.96 209.12,601.73 209.6,601.31C210.08,600.89 209.3,601.68 209.9,601.09C210.5,600.5 212.03,599.08 213.2,597.79C214.37,596.5 215.82,594.67 216.9,593.36C217.98,592.05 219.1,590.68 219.7,589.93C220.3,589.19 220.12,589.43 220.5,588.9C220.88,588.36 221.38,587.48 222,586.7C222.62,585.93 223.32,585.34 224.2,584.24C225.08,583.13 226.73,580.85 227.3,580.07C227.87,579.29 227.52,579.67 227.6,579.56C227.68,579.45 227.15,579.99 227.8,579.4C228.45,578.81 230.37,576.85 231.5,576.03C232.63,575.2 234.02,574.75 234.6,574.46C235.18,574.16 234.85,574.33 235,574.28C235.15,574.22 234.87,574.52 235.5,574.1C236.13,573.68 237.73,572.46 238.8,571.75C239.87,571.03 241.3,570.18 241.9,569.81C242.5,569.45 242.15,569.69 242.4,569.55C242.65,569.41 242.97,569.29 243.4,568.98C243.83,568.67 244.03,568.63 245,567.66C245.97,566.7 248.17,564.33 249.2,563.2C250.23,562.06 250.73,561.38 251.2,560.85C251.67,560.32 251.12,560.92 252,560.02C252.88,559.11 255.32,556.69 256.5,555.42C257.68,554.15 258.52,553.07 259.1,552.41C259.68,551.75 259.22,552.24 260,551.46C260.78,550.67 262.3,549.24 263.8,547.67C265.3,546.11 267.97,543.16 269,542.08C270.03,541 268.37,542.54 270,541.2C271.63,539.86 277.13,535.39 278.8,534.03C280.47,532.68 278.35,534.25 280,533.06C281.65,531.88 286.27,528.18 288.7,526.91C291.13,525.64 292.72,525.93 294.6,525.45C296.48,524.97 299.02,524.28 300,524.03C300.98,523.77 299.75,524.74 300.5,523.93C301.25,523.12 303.25,520.97 304.5,519.18C305.75,517.39 307.35,514.32 308,513.21C308.65,512.09 307.68,513.93 308.4,512.5C309.12,511.07 311.47,506.06 312.3,504.6C313.13,503.14 313.22,503.87 313.4,503.73" fill="none" stroke="#f29e6c" stroke-width="5.65" stroke-linejoin="round" stroke-linecap="square"/>
<path d="M113.2,697.7C113.33,697.56 112.03,699.01 114,696.86C115.97,694.72 123,687.03 125,684.84C127,682.65 125.78,683.95 126,683.71C126.22,683.47 124.8,684.99 126.3,683.4C127.8,681.81 132.08,677.25 135,674.2C137.92,671.15 140.87,668.08 143.8,665.1C146.73,662.12 149.68,659.22 152.6,656.3C155.52,653.38 158.38,650.45 161.3,647.6C164.22,644.75 167.18,641.98 170.1,639.2C173.02,636.42 175.88,633.58 178.8,630.9C181.72,628.22 184.67,625.72 187.6,623.1C190.53,620.48 194.33,617.03 196.4,615.2C198.47,613.37 198.55,613.39 200,612.14C201.45,610.88 203.08,609.35 205.1,607.68C207.12,606.01 210.17,603.73 212.1,602.12C214.03,600.5 215.93,598.68 216.7,597.99" fill="none" stroke="#011959" stroke-width="5.65" stroke-linejoin="round" stroke-linecap="square"/>
<path d="M113.6,699.57C113.67,699.5 112.1,701.12 114,699.14C115.9,697.16 123,689.78 125,687.69C127,685.59 125.78,686.81 126,686.58C126.22,686.34 125.97,686.61 126.3,686.28C126.63,685.95 126.55,686.11 128,684.58C129.45,683.05 132.37,679.86 135,677.1C137.63,674.34 140.87,670.98 143.8,668C146.73,665.02 149.68,662.12 152.6,659.2C155.52,656.28 158.38,653.35 161.3,650.5C164.22,647.65 167.18,644.88 170.1,642.1C173.02,639.32 175.88,636.48 178.8,633.8C181.72,631.12 184.67,628.62 187.6,626C190.53,623.38 194.33,619.93 196.4,618.1C198.47,616.27 198.55,616.35 200,615.04C201.45,613.73 203.38,611.78 205.1,610.24C206.82,608.69 209.43,606.52 210.3,605.78" fill="none" stroke="#fdbdd6" stroke-width="5.65" stroke-linejoin="round" stroke-linecap="square"/>
</g>
<rect x="103.2" y="404.1" width="228.3" height="305.35" fill="none" stroke="#000" stroke-width="1"/>
<line x1="111.1" y1="709.45" x2="111.1" y2="713.85" stroke="#000" stroke-width="1"/>
<text x="111.1" y="731.05" font-size="17.9" text-anchor="middle">0</text>
<line x1="180.94" y1="709.45" x2="180.94" y2="713.85" stroke="#000" stroke-width="1"/>
<text x="180.94" y="731.05" font-size="17.9" text-anchor="middle">50</text>
<line x1="250.77" y1="709.45" x2="250.77" y2="713.85" stroke="#000" stroke-width="1"/>
<text x="250.77" y="731.05" font-size="17.9" text-anchor="middle">100</text>
<line x1="320.61" y1="709.45" x2="320.61" y2="713.85" stroke="#000" stroke-width="1"/>
<text x="320.61" y="731.05" font-size="17.9" text-anchor="middle">150</text>
<line x1="98.9" y1="700.45" x2="103.2" y2="700.45" stroke="#000" stroke-width="1"/>
<text x="95.35" y="707.05" font-size="17.9" text-anchor="end">0.000</text>
<line x1="98.9" y1="641.18" x2="103.2" y2="641.18" stroke="#000" stroke-width="1"/>
<text x="95.35" y="647.78" font-size="17.9" text-anchor="end">0.002</text>
<line x1="98.9" y1="581.91" x2="103.2" y2="581.91" stroke="#000" stroke-width="1"/>
<text x="95.35" y="588.51" font-size="17.9" text-anchor="end">0.004</text>
<line x1="98.9" y1="522.64" x2="103.2" y2="522.64" stroke="#000" stroke-width="1"/>
<text x="95.35" y="529.24" font-size="17.9" text-anchor="end">0.006</text>
<line x1="98.9" y1="463.37" x2="103.2" y2="463.37" stroke="#000" stroke-width="1"/>
<text x="95.35" y="469.97" font-size="17.9" text-anchor="end">0.008</text>
<line x1="98.9" y1="404.1" x2="103.2" y2="404.1" stroke="#000" stroke-width="1"/>
<text x="95.35" y="410.7" font-size="17.9" text-anchor="end">0.010</text>
<text x="217.35" y="752.75" font-size="17.85" text-anchor="middle">[Ca]<tspan dy="3.2" font-size="12.5" font-style="italic">added</tspan><tspan dy="-3.2"> [mM]</tspan></text>
<text transform="translate(35.2 556.78) rotate(-90)" font-size="17.85" text-anchor="middle">center of mass change [<tspan font-style="italic">Å</tspan><tspan dy="-6.4" dx="2.0" font-size="12.5">−1</tspan><tspan dy="6.4">]</tspan></text>
<text x="-1.5" y="396.6" font-size="19.2">(c)</text>
</g>
<g id="panel-d">
<clipPath id="clip-d"><rect x="451.6" y="404.1" width="228.9" height="305.35"/></clipPath>
<g clip-path="url(#clip-d)">
<rect x="528.2" y="404.1" width="10.8" height="305.35" fill="#011959" fill-opacity="0.4"/>
<rect x="541.2" y="404.1" width="5.3" height="305.35" fill="#fdbdd6" fill-opacity="0.4"/>
<rect x="597" y="404.1" width="27.6" height="305.35" fill="#f29e6c" fill-opacity="0.4"/>
<rect x="636.1" y="404.1" width="28.9" height="305.35" fill="#828231" fill-opacity="0.4"/>
</g>
<rect x="458.6" y="410.7" width="193.3" height="142.5" rx="2.7" ry="2.7" fill="#fff" fill-opacity="0.8" stroke="#ccc" stroke-opacity="0.8" stroke-width="1"/>
<line x1="463.9" y1="421.75" x2="490.9" y2="421.75" stroke="#011959" stroke-width="5.65" stroke-linecap="square"/>
<text x="501.5" y="426.65" font-size="13.4">gypsum</text>
<line x1="463.9" y1="441.45" x2="490.9" y2="441.45" stroke="#fdbdd6" stroke-width="5.65" stroke-linecap="square"/>
<text x="501.5" y="446.35" font-size="13.4">+ 50 ppm STMP</text>
<line x1="463.9" y1="461.15" x2="490.9" y2="461.15" stroke="#828231" stroke-width="5.65" stroke-linecap="square"/>
<text x="501.5" y="466.05" font-size="13.4">+ 50 ppm phytic acid</text>
<line x1="463.9" y1="480.85" x2="490.9" y2="480.85" stroke="#f29e6c" stroke-width="5.65" stroke-linecap="square"/>
<text x="501.5" y="485.75" font-size="13.4">+ 50 ppm PAA</text>
<line x1="463.9" y1="500.55" x2="490.9" y2="500.55" stroke="#6b6b6b" stroke-width="3.7" stroke-linecap="square"/>
<text x="501.5" y="505.45" font-size="13.4">Na<tspan dy="2.6" font-size="9.38">2</tspan><tspan dy="-2.6">SO</tspan><tspan dy="2.6" font-size="9.38">4</tspan></text>
<line x1="463.9" y1="520.25" x2="490.9" y2="520.25" stroke="#a9a9a9" stroke-width="3.7" stroke-linecap="square"/>
<text x="501.5" y="525.15" font-size="13.4">CaCl<tspan dy="2.6" font-size="9.38">2</tspan></text>
<line x1="463.9" y1="539.95" x2="490.9" y2="539.95" stroke="#dcdcdc" stroke-width="3.7" stroke-linecap="square"/>
<text x="501.5" y="544.85" font-size="13.4">water ref</text>
<g clip-path="url(#clip-d)">
<polyline points="465.2,693.85 472.8,691.6 481.5,688.1 488.5,684.6 497.3,682 506.1,681.1 513.1,676.7 520.1,674.1 528.8,668.8 537.6,666.2 544.6,662.7 550,660 557.9,658 567.7,654.1 575.6,653.1 583.5,649.1 591.4,645.2 599.3,641.6 607.2,636.9 617,634.3 624.9,631 632.8,626.5 640.7,622.5 648.5,616.6 654.5,614.6 662.3,612.7 668.95,609.82" fill="none" stroke="#6b6b6b" stroke-width="3.7" stroke-linejoin="round" stroke-linecap="square"/>
<polyline points="465.2,692.55 472.8,687.2 485,681.1 493.8,676.7 502.6,671.5 511.3,668.5 520.1,661.8 528.8,657.4 537.6,653.9 546.4,648.7 550,646.2 559.9,642.2 569.7,635.3 579.6,628.4 589.4,621.5 599.3,614.6 609.1,608.1 619,602.2 628.8,595.9 637.7,590 640.7,586.4 648.5,579.5 656.4,571.6 663.88,565.8" fill="none" stroke="#a9a9a9" stroke-width="3.7" stroke-linejoin="round" stroke-linecap="square"/>
<path d="M480.1,695.04C480.92,695.2 482.72,695.99 485,696C487.28,696.01 490.87,695.68 493.8,695.1C496.73,694.52 499.68,693.13 502.6,692.5C505.52,691.87 508.38,691.6 511.3,691.3C514.22,691 517.18,690.88 520.1,690.7C523.02,690.52 525.88,690.1 528.8,690.2C531.72,690.3 534.97,690.83 537.6,691.3C540.23,691.77 542.53,692.73 544.6,693C546.67,693.27 547.78,693.48 550,692.9C552.22,692.32 554.95,690.38 557.9,689.5C560.85,688.62 564.75,687.6 567.7,687.6C570.65,687.6 572.63,688.75 575.6,689.5C578.57,690.25 582.53,692.1 585.5,692.1C588.47,692.1 590.78,690.35 593.4,689.5C596.02,688.65 598.25,687.48 601.2,687C604.15,686.52 607.8,686.83 611.1,686.6C614.4,686.37 617.72,685.67 621,685.6C624.28,685.53 627.52,685.97 630.8,686.2C634.08,686.43 637.08,686.62 640.7,687C644.32,687.38 649.22,688.33 652.5,688.5C655.78,688.67 658.33,688.13 660.4,688C662.47,687.87 664.15,687.76 664.9,687.71" fill="none" stroke="#dcdcdc" stroke-width="3.7" stroke-linejoin="round" stroke-linecap="square"/>
<path d="M462.8,688.75C463.58,688.12 465.25,686.87 467.5,685C469.75,683.13 473.38,680.03 476.3,677.5C479.22,674.97 482.08,672.42 485,669.8C487.92,667.18 490.87,664.47 493.8,661.8C496.73,659.13 499.68,656.43 502.6,653.8C505.52,651.17 508.38,648.55 511.3,646C514.22,643.45 517.18,640.92 520.1,638.5C523.02,636.08 525.88,633.92 528.8,631.5C531.72,629.08 534.68,626.57 537.6,624C540.52,621.43 543.4,618.77 546.3,616.1C549.2,613.43 552.08,610.72 555,608C557.92,605.28 561.35,602.48 563.8,599.8C566.25,597.12 567.4,594.45 569.7,591.9C572,589.35 574.65,586.57 577.6,584.5C580.55,582.43 584.45,581.48 587.4,579.5C590.35,577.52 592.33,575.22 595.3,572.6C598.27,569.98 602.23,566.42 605.2,563.8C608.17,561.18 610.15,559.53 613.1,556.9C616.05,554.27 620.28,550.37 622.9,548C625.52,545.63 626.17,545.17 628.8,542.7C631.43,540.23 635.42,536.27 638.7,533.2C641.98,530.13 645.55,526.93 648.5,524.3C651.45,521.67 654.25,518.87 656.4,517.4C658.55,515.93 660.25,515.17 661.4,515.5C662.55,515.83 662.65,516.12 663.3,519.4C663.95,522.68 664.63,529.28 665.3,535.2C665.97,541.12 666.65,548.98 667.3,554.9C667.95,560.82 668.77,567.04 669.2,570.7C669.63,574.36 669.78,575.83 669.9,576.86" fill="none" stroke="#828231" stroke-width="5.65" stroke-linejoin="round" stroke-linecap="square"/>
<path d="M462.5,687.25C463.33,686.46 465.2,684.66 467.5,682.5C469.8,680.34 473.38,677.05 476.3,674.3C479.22,671.55 482.08,668.78 485,666C487.92,663.22 490.87,660.35 493.8,657.6C496.73,654.85 499.68,652.18 502.6,649.5C505.52,646.82 508.38,644.03 511.3,641.5C514.22,638.97 517.18,636.72 520.1,634.3C523.02,631.88 525.88,629.47 528.8,627C531.72,624.53 534.68,622.02 537.6,619.5C540.52,616.98 543.4,614.48 546.3,611.9C549.2,609.32 552.08,606.63 555,604C557.92,601.37 561.35,598.53 563.8,596.1C566.25,593.67 567.73,591.5 569.7,589.4C571.67,587.3 572.97,585.63 575.6,583.5C578.23,581.37 582.53,578.9 585.5,576.6C588.47,574.3 590.45,572.33 593.4,569.7C596.35,567.07 600.43,563.27 603.2,560.8C605.97,558.33 608.68,556 610,554.86C611.32,553.73 609.6,555.18 611.1,553.99C612.6,552.8 617.52,548.82 619,547.72C620.48,546.62 619.02,547.78 620,547.39C620.98,547.01 623.1,545.67 624.9,545.4C626.7,545.13 629.62,545.63 630.8,545.8C631.98,545.97 631.02,545.99 632,546.41C632.98,546.83 635.37,547.33 636.7,548.33C638.03,549.33 639.02,551.16 640,552.42C640.98,553.68 641.18,553.19 642.6,555.9C644.02,558.61 646.85,564.6 648.5,568.7C650.15,572.8 651.35,575.9 652.5,580.5C653.65,585.1 654.42,590.78 655.4,596.3C656.38,601.82 657.4,609.02 658.4,613.6C659.4,618.18 660.89,622.08 661.39,623.77" fill="none" stroke="#f29e6c" stroke-width="5.65" stroke-linejoin="round" stroke-linecap="square"/>
<path d="M461.2,686.68C462.25,685.75 464.98,683.5 467.5,681.1C470.02,678.7 473.97,674.63 476.3,672.3C478.63,669.97 479.75,668.55 481.5,667.1C483.25,665.65 484.75,665.5 486.8,663.6C488.85,661.7 492.05,657.45 493.8,655.7C495.55,653.95 495.83,653.98 497.3,653.1C498.77,652.22 501.32,651.21 502.6,650.4C503.88,649.59 503.55,649.4 505,648.25C506.45,647.1 508.97,645.54 511.3,643.5C513.63,641.46 517.55,637.48 519,636.01C520.45,634.55 518.95,635.68 520,634.73C521.05,633.79 523.97,631.61 525.3,630.35C526.63,629.09 527.42,627.87 528,627.2C528.58,626.53 528.08,627.39 528.8,626.34C529.52,625.29 531.27,622.12 532.3,620.89C533.33,619.67 534.42,619.4 535,619C535.58,618.6 535.08,618.67 535.8,618.5C536.52,618.33 538.13,617.63 539.3,618C540.47,618.37 541.63,619.53 542.8,620.7C543.97,621.87 545.13,623.47 546.3,625C547.47,626.53 548.63,628.5 549.8,629.9C550.97,631.3 551.98,632.75 553.3,633.4C554.62,634.05 556.25,633.8 557.7,633.8C559.15,633.8 560.67,633.42 562,633.4C563.33,633.38 565.08,633.63 565.7,633.68" fill="none" stroke="#011959" stroke-width="5.65" stroke-linejoin="round" stroke-linecap="square"/>
<path d="M461.4,689.11C462.42,688.2 465.02,685.92 467.5,683.7C469.98,681.48 473.38,678.57 476.3,675.8C479.22,673.03 482.08,669.87 485,667.1C487.92,664.33 490.87,661.68 493.8,659.2C496.73,656.72 499.68,654.68 502.6,652.2C505.52,649.72 508.4,646.72 511.3,644.3C514.2,641.88 517.08,639.88 520,637.7C522.92,635.52 525.88,633.6 528.8,631.2C531.72,628.8 535.17,625.63 537.5,623.3C539.83,620.97 541.33,618.67 542.8,617.2C544.27,615.73 545.28,614.87 546.3,614.5C547.32,614.13 548.17,614.42 548.9,615C549.63,615.58 549.97,616.33 550.7,618C551.43,619.67 552.43,622.8 553.3,625C554.17,627.2 555.15,629.81 555.9,631.2C556.65,632.59 557.49,632.99 557.81,633.35" fill="none" stroke="#fdbdd6" stroke-width="5.65" stroke-linejoin="round" stroke-linecap="square"/>
</g>
<rect x="451.6" y="404.1" width="228.9" height="305.35" fill="none" stroke="#000" stroke-width="1"/>
<line x1="459.4" y1="709.45" x2="459.4" y2="713.85" stroke="#000" stroke-width="1"/>
<text x="459.4" y="731.05" font-size="17.9" text-anchor="middle">0</text>
<line x1="529.24" y1="709.45" x2="529.24" y2="713.85" stroke="#000" stroke-width="1"/>
<text x="529.24" y="731.05" font-size="17.9" text-anchor="middle">50</text>
<line x1="599.07" y1="709.45" x2="599.07" y2="713.85" stroke="#000" stroke-width="1"/>
<text x="599.07" y="731.05" font-size="17.9" text-anchor="middle">100</text>
<line x1="668.9" y1="709.45" x2="668.9" y2="713.85" stroke="#000" stroke-width="1"/>
<text x="668.9" y="731.05" font-size="17.9" text-anchor="middle">150</text>
<line x1="447.9" y1="692.4" x2="451.6" y2="692.4" stroke="#000" stroke-width="1"/>
<text x="443.9" y="699" font-size="17.9" text-anchor="end">0.000</text>
<line x1="447.9" y1="634.74" x2="451.6" y2="634.74" stroke="#000" stroke-width="1"/>
<text x="443.9" y="641.34" font-size="17.9" text-anchor="end">0.001</text>
<line x1="447.9" y1="577.08" x2="451.6" y2="577.08" stroke="#000" stroke-width="1"/>
<text x="443.9" y="583.68" font-size="17.9" text-anchor="end">0.002</text>
<line x1="447.9" y1="519.42" x2="451.6" y2="519.42" stroke="#000" stroke-width="1"/>
<text x="443.9" y="526.02" font-size="17.9" text-anchor="end">0.003</text>
<line x1="447.9" y1="461.76" x2="451.6" y2="461.76" stroke="#000" stroke-width="1"/>
<text x="443.9" y="468.36" font-size="17.9" text-anchor="end">0.004</text>
<line x1="447.9" y1="404.1" x2="451.6" y2="404.1" stroke="#000" stroke-width="1"/>
<text x="443.9" y="410.7" font-size="17.9" text-anchor="end">0.005</text>
<text x="566.05" y="752.75" font-size="17.85" text-anchor="middle">[Ca]<tspan dy="3.2" font-size="12.5" font-style="italic">added</tspan><tspan dy="-3.2"> [mM]</tspan></text>
<text transform="translate(383.5 556.78) rotate(-90)" font-size="17.85" text-anchor="middle">variance change [<tspan font-style="italic">Å</tspan><tspan dy="-6.4" dx="2.0" font-size="12.5">−1</tspan><tspan dy="6.4">]</tspan></text>
<text x="343.5" y="396.6" font-size="19.2">(d)</text>
</g>
</g>
</svg>
</body></html>
